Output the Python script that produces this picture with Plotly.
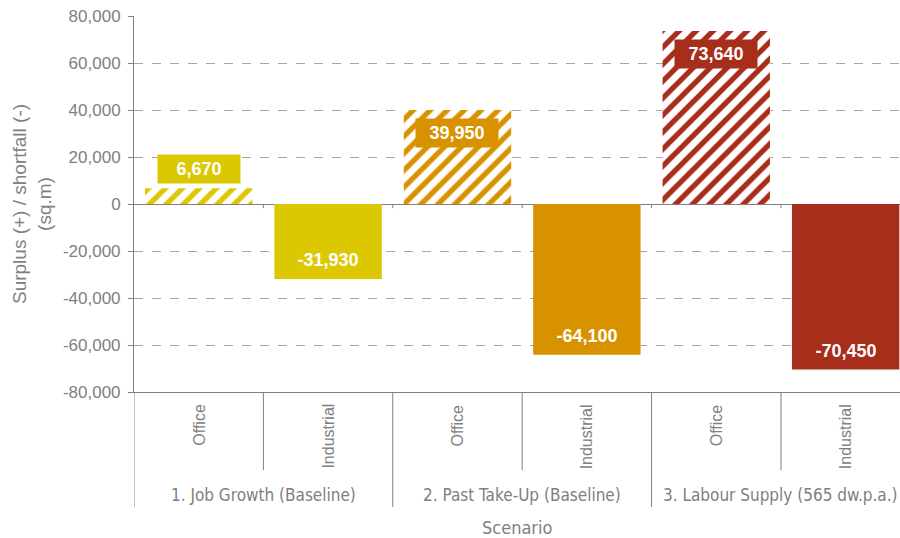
import plotly.graph_objects as go

# Scenario groups and floorspace types
scenarios = ["1. Job Growth (Baseline)", "2. Past Take-Up (Baseline)", "3. Labour Supply (565 dw.p.a.)"]
space_types = ["Office", "Industrial"]

# Surplus (+) / shortfall (-) in sq.m, per scenario
office_values = [6670, 39950, 73640]
industrial_values = [-31930, -64100, -70450]

scenario_colors = ["#DCC800", "#D89200", "#A82E1C"]

y_ticks = [-80000, -60000, -40000, -20000, 0, 20000, 40000, 60000, 80000]

GRAY = "#808080"
SANS = "Liberation Sans, Arial, sans-serif"
NARROW = "DejaVu Sans Condensed, Liberation Sans, sans-serif"

PLOT_H = 538 - 16 - 146  # plot area height in px


def px_below(px):
    """Paper y coordinate for a point px pixels below the x axis."""
    return -px / PLOT_H


fig = go.Figure()

for i, scen in enumerate(scenarios):
    col = scenario_colors[i]
    # hatched office bar
    fig.add_trace(go.Bar(
        x=[[scen], [space_types[0]]], y=[office_values[i]],
        marker=dict(color="white", line=dict(width=0),
                    pattern=dict(shape="/", fgcolor=col, bgcolor="white",
                                 size=12, solidity=0.45, fillmode="replace")),
        width=0.83, showlegend=False, hoverinfo="skip"))
    # solid industrial bar
    fig.add_trace(go.Bar(
        x=[[scen], [space_types[1]]], y=[industrial_values[i]],
        marker=dict(color=col, line=dict(width=0)),
        width=0.83, showlegend=False, hoverinfo="skip"))

# value labels on coloured boxes
label_font = dict(family=SANS, size=18, color="white")
for i, scen in enumerate(scenarios):
    col = scenario_colors[i]
    for j, val in enumerate([office_values[i], industrial_values[i]]):
        pos = 2 * i + j
        if val >= 0:
            small = val < 15000
            anchor, shift = ("bottom", 4) if small else ("top", -8)
        else:
            anchor, shift = "bottom", 4
        fig.add_annotation(
            x=pos, y=val, xref="x", yref="y",
            text="<b>{:,}</b>".format(val),
            showarrow=False, font=label_font, bgcolor=col,
            width=72, height=18, borderpad=5,
            yanchor=anchor, yshift=shift)

# category labels (rotated) and scenario group labels
for i, scen in enumerate(scenarios):
    for j, t in enumerate(space_types):
        fig.add_annotation(
            x=2 * i + j, y=px_below(10), xref="x", yref="paper",
            text=t, textangle=-90, showarrow=False,
            font=dict(family=SANS, size=16, color=GRAY),
            xanchor="center", yanchor="top")
    fig.add_annotation(
        x=2 * i + 0.5, y=px_below(103), xref="x", yref="paper",
        text=scen, showarrow=False,
        font=dict(family=NARROW, size=17, color=GRAY),
        xanchor="center", yanchor="middle")

fig.add_annotation(
    x=0.5, y=px_below(135), xref="paper", yref="paper",
    text="Scenario", showarrow=False,
    font=dict(family=NARROW, size=18, color=GRAY),
    xanchor="center", yanchor="middle")

# axis dividers
line = dict(color=GRAY, width=1)
for k in range(len(scenarios)):
    # between office and industrial
    fig.add_shape(type="line", xref="x", yref="paper",
                  x0=2 * k + 0.5, x1=2 * k + 0.5, y0=0, y1=px_below(78), line=line)
    # between scenarios
    fig.add_shape(type="line", xref="x", yref="paper",
                  x0=2 * k - 0.5, x1=2 * k - 0.5, y0=0, y1=px_below(115), line=line)
# small tick marks on the zero line at category boundaries
for k in range(2 * len(scenarios) - 1):
    fig.add_shape(type="line", xref="x", yref="y",
                  x0=k + 0.5, x1=k + 0.5, y0=0, y1=-1800, line=line)

fig.update_layout(
    width=900, height=538,
    margin=dict(l=134, r=0, t=16, b=146),
    plot_bgcolor="white", paper_bgcolor="white",
    bargap=0.17,
    font=dict(family=SANS, color=GRAY, size=14),
)

fig.update_yaxes(
    range=[-80000, 80000], tickvals=y_ticks,
    ticktext=["{:,}".format(v) for v in y_ticks],
    tickfont=dict(family=SANS, size=17, color=GRAY),
    ticklabelstandoff=4,
    showline=True, linecolor=GRAY, linewidth=1,
    ticks="outside", ticklen=5, tickcolor=GRAY,
    showgrid=True, gridcolor="#A6A6A6", griddash="dash", gridwidth=1,
    zeroline=True, zerolinecolor=GRAY, zerolinewidth=1,
    title=dict(text="Surplus (+) / shortfall (-)<br>(sq.m)",
               font=dict(family=SANS, size=19, color=GRAY), standoff=6),
)

fig.update_xaxes(
    type="multicategory",
    range=[-0.5, 5.42],
    showticklabels=False,
    showline=True, linecolor=GRAY, linewidth=1,
    showdividers=False,
)

fig.write_html("out.html")
